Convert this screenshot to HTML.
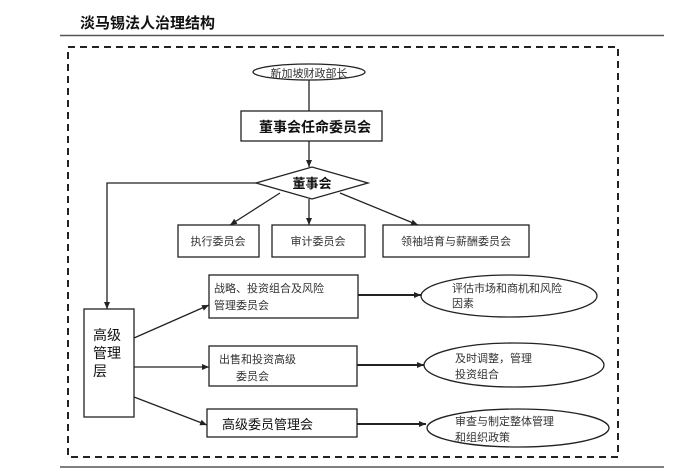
<!DOCTYPE html>
<html><head><meta charset="utf-8"><style>
body{margin:0;background:#fff;}
svg{display:block;}
text{font-family:"Liberation Sans","Noto Sans CJK SC",sans-serif;}
</style></head><body>
<svg width="682" height="472" viewBox="0 0 682 472" xmlns="http://www.w3.org/2000/svg">
<defs><marker id="a" markerWidth="8" markerHeight="8" refX="7" refY="4" orient="auto" markerUnits="userSpaceOnUse"><path d="M0,1 L7,4 L0,7 z" fill="#222"/></marker></defs>
<text x="80" y="28" font-size="15" font-weight="bold" fill="#111">淡马锡法人治理结构</text>
<line x1="60" y1="35.5" x2="664" y2="35.5" stroke="#555" stroke-width="1.5"/>
<rect x="68" y="47" width="550" height="410" fill="none" stroke="#222" stroke-width="2" stroke-dasharray="7,5"/>
<line x1="60" y1="467" x2="664" y2="467" stroke="#555" stroke-width="1.5"/>
<g stroke="#222" stroke-width="1.3" fill="#fff">
<ellipse cx="309" cy="72" rx="56" ry="8"/>
<line x1="309" y1="80" x2="309" y2="111"/>
<rect x="241" y="111" width="141" height="30"/>
<line x1="309" y1="141" x2="309" y2="167" marker-end="url(#a)"/>
<polygon points="256,183 312,167 368,183 312,199"/>
<polyline points="256,183 107,183 107,309" fill="none" marker-end="url(#a)"/>
<line x1="280" y1="193" x2="230" y2="225" marker-end="url(#a)"/>
<line x1="309" y1="199" x2="309" y2="225" marker-end="url(#a)"/>
<line x1="340" y1="193" x2="418" y2="225" marker-end="url(#a)"/>
<rect x="178" y="225" width="81" height="32"/>
<rect x="272" y="225" width="93" height="32"/>
<rect x="383" y="225" width="146" height="32"/>
<rect x="84" y="309" width="50" height="108"/>
<line x1="134" y1="338" x2="209" y2="305" marker-end="url(#a)"/>
<line x1="134" y1="367" x2="209" y2="367" marker-end="url(#a)"/>
<line x1="134" y1="397" x2="207" y2="425" marker-end="url(#a)"/>
<rect x="209" y="275" width="149" height="43"/>
<rect x="209" y="346" width="148" height="40"/>
<rect x="207" y="409" width="150" height="28"/>
<line x1="358" y1="295" x2="421" y2="295" stroke-width="2" marker-end="url(#a)"/>
<line x1="357" y1="365" x2="424" y2="365" stroke-width="2" marker-end="url(#a)"/>
<line x1="357" y1="424" x2="426" y2="424" stroke-width="2" marker-end="url(#a)"/>
<ellipse cx="509" cy="296" rx="88" ry="21"/>
<ellipse cx="514" cy="365" rx="90" ry="22"/>
<ellipse cx="518" cy="428" rx="91" ry="19"/>
</g>
<g fill="#333">
<text x="309" y="77" font-size="11" text-anchor="middle">新加坡财政部长</text>
<text x="315" y="132" font-size="14" font-weight="bold" text-anchor="middle" fill="#111">董事会任命委员会</text>
<text x="312" y="188" font-size="13" font-weight="bold" text-anchor="middle" fill="#111">董事会</text>
<text x="218" y="245" font-size="11" text-anchor="middle">执行委员会</text>
<text x="318" y="245" font-size="11" text-anchor="middle">审计委员会</text>
<text x="456" y="245" font-size="11" text-anchor="middle">领袖培育与薪酬委员会</text>
<text x="93" y="340" font-size="14" fill="#111">高级</text>
<text x="93" y="358" font-size="14" fill="#111">管理</text>
<text x="93" y="376" font-size="14" fill="#111">层</text>
<text x="214" y="292" font-size="11">战略、投资组合及风险</text>
<text x="214" y="309" font-size="11">管理委员会</text>
<text x="219" y="363" font-size="11">出售和投资高级</text>
<text x="236" y="380" font-size="11">委员会</text>
<text x="222" y="429" font-size="13" fill="#111">高级委员管理会</text>
<text x="452" y="292" font-size="11">评估市场和商机和风险</text>
<text x="452" y="307" font-size="11">因素</text>
<text x="455" y="362" font-size="11">及时调整，管理</text>
<text x="455" y="378" font-size="11">投资组合</text>
<text x="455" y="425" font-size="11">审查与制定整体管理</text>
<text x="455" y="441" font-size="11">和组织政策</text>
</g>
</svg>
</body></html>
